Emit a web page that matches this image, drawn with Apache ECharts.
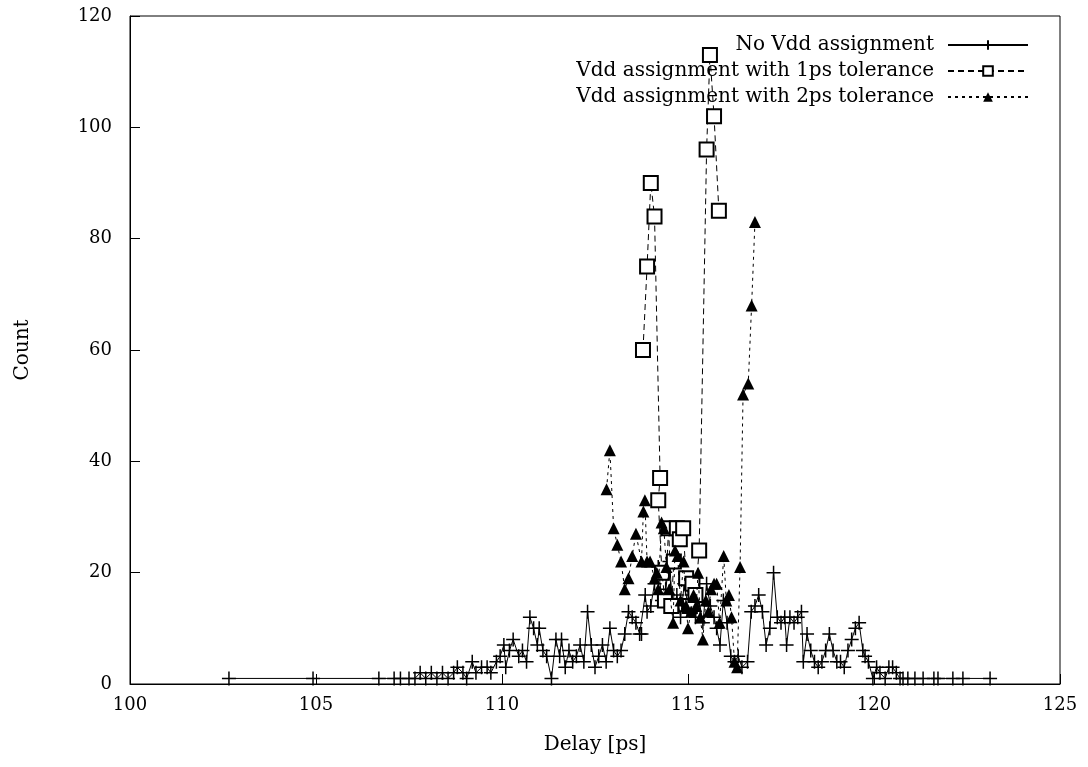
<!DOCTYPE html>
<html>
<head>
<meta charset="utf-8">
<script src="https://cdn.jsdelivr.net/npm/echarts@6/dist/echarts.min.js"></script>
<style>
  html, body { margin: 0; padding: 0; background: #fff; }
  #chart { width: 1088px; height: 767px; }
</style>
</head>
<body>
<div id="chart"></div>
<script>
// No Vdd assignment
var delayNoVdd = [102.66, 104.92, 106.69, 107.1, 107.27, 107.5, 107.66, 107.8, 107.95, 108.1, 108.25, 108.4, 108.55, 108.7, 108.8, 108.95, 109.05, 109.2, 109.3, 109.45, 109.6, 109.7, 109.85, 109.95, 110.05, 110.1, 110.2, 110.3, 110.45, 110.55, 110.66, 110.75, 110.85, 110.95, 111.0, 111.1, 111.2, 111.33, 111.45, 111.55, 111.6, 111.7, 111.8, 111.9, 112.0, 112.1, 112.2, 112.3, 112.4, 112.5, 112.6, 112.7, 112.8, 112.9, 113.0, 113.1, 113.2, 113.3, 113.4, 113.5, 113.6, 113.7, 113.75, 113.85, 113.9, 114.0, 114.1, 114.2, 114.3, 114.4, 114.5, 114.6, 114.7, 114.8, 114.9, 115.0, 115.1, 115.2, 115.3, 115.4, 115.5, 115.6, 115.7, 115.77, 115.86, 115.95, 116.05, 116.15, 116.25, 116.35, 116.45, 116.6, 116.7, 116.8, 116.9, 117.0, 117.1, 117.2, 117.3, 117.4, 117.5, 117.6, 117.65, 117.74, 117.85, 117.95, 118.05, 118.1, 118.2, 118.3, 118.4, 118.5, 118.6, 118.7, 118.8, 118.9, 119.0, 119.1, 119.2, 119.3, 119.4, 119.5, 119.6, 119.7, 119.76, 119.85, 119.97, 120.07, 120.16, 120.3, 120.4, 120.5, 120.6, 120.7, 120.78, 120.91, 121.1, 121.32, 121.61, 121.72, 122.12, 122.39, 123.12];
var countNoVdd = [1, 1, 1, 1, 1, 1, 1, 2, 1, 2, 1, 2, 1, 2, 3, 2, 1, 4, 2, 3, 3, 2, 4, 5, 7, 3, 6, 8, 5, 6, 4, 12, 10, 7, 10, 6, 5, 1, 8, 5, 8, 3, 6, 4, 5, 7, 4, 13, 7, 3, 5, 7, 4, 10, 6, 5, 6, 9, 13, 12, 11, 9, 9, 16, 13, 14, 18, 21, 15, 17, 22, 13, 16, 12, 18, 14, 16, 12, 15, 11, 18, 14, 12, 10, 7, 15, 11, 5, 4, 5, 3, 4, 13, 14, 16, 13, 7, 10, 20, 12, 11, 12, 7, 12, 11, 12, 13, 4, 9, 6, 4, 3, 4, 6, 9, 6, 4, 4, 3, 6, 8, 10, 11, 6, 5, 4, 1, 3, 2, 1, 3, 3, 2, 1, 1, 1, 1, 1, 1, 1, 1, 1, 1];

// Vdd assignment with 1ps tolerance
var delay1ps = [113.79, 113.9, 114.0, 114.1, 114.25, 114.2, 114.3, 114.38, 114.48, 114.55, 114.62, 114.7, 114.78, 114.87, 114.95, 115.05, 115.12, 115.2, 115.3, 115.5, 115.59, 115.7, 115.83];
var count1ps = [60, 75, 90, 84, 37, 33, 20, 15, 28, 14, 22, 28, 26, 28, 19, 14, 18, 16, 24, 96, 113, 102, 85];

// Vdd assignment with 2ps tolerance
var delay2ps = [112.81, 112.9, 113.0, 113.1, 113.2, 113.3, 113.4, 113.5, 113.6, 113.75, 113.8, 113.84, 113.9, 113.98, 114.1, 114.16, 114.2, 114.29, 114.35, 114.42, 114.5, 114.6, 114.65, 114.72, 114.8, 114.88, 114.95, 115.0, 115.08, 115.15, 115.22, 115.27, 115.33, 115.4, 115.48, 115.55, 115.62, 115.7, 115.77, 115.85, 115.96, 116.03, 116.1, 116.17, 116.25, 116.32, 116.4, 116.48, 116.62, 116.71, 116.8];
var count2ps = [35, 42, 28, 25, 22, 17, 19, 23, 27, 22, 31, 33, 22, 22, 19, 20, 17, 29, 28, 21, 17, 11, 24, 23, 15, 22, 14, 10, 13, 16, 14, 20, 12, 8, 15, 13, 17, 18, 18, 11, 23, 15, 16, 12, 4, 3, 21, 52, 54, 68, 83];

var seriesNames = ['No Vdd assignment', 'Vdd assignment with 1ps tolerance', 'Vdd assignment with 2ps tolerance'];

function pairs(xs, ys) {
    var out = [];
    for (var i = 0; i < xs.length; i++) {
        out.push([xs[i], ys[i]]);
    }
    return out;
}

var font = 'DejaVu Serif';
var plusPath = 'path://M0,5L10,5M5,0L5,10';

// one legend per row so the sample lines line up on the right
function legendFor(name, top) {
    return {
        data: [name],
        right: 54,
        top: top,
        align: 'right',
        itemWidth: 80,
        itemHeight: 12,
        selectedMode: false,
        textStyle: { fontFamily: font, fontSize: 20, color: '#000', padding: [0, 9, 0, 0] }
    };
}

var chart = echarts.init(document.getElementById('chart'));
chart.setOption({
    animation: false,
    backgroundColor: '#fff',
    textStyle: { fontFamily: font },
    grid: {
        left: 130,
        right: 28,
        top: 16,
        bottom: 83,
        show: true,
        borderColor: '#000',
        borderWidth: 1
    },
    legend: [
        legendFor(seriesNames[0], 30),
        legendFor(seriesNames[1], 56),
        legendFor(seriesNames[2], 82)
    ],
    xAxis: {
        type: 'value',
        min: 100,
        max: 125,
        interval: 5,
        name: 'Delay [ps]',
        nameLocation: 'middle',
        nameGap: 51,
        nameTextStyle: { fontFamily: font, fontSize: 20, color: '#000' },
        axisLine: { lineStyle: { color: '#000' } },
        axisTick: { inside: true, length: 10, lineStyle: { color: '#000' } },
        axisLabel: { fontFamily: font, fontSize: 18, color: '#000', margin: 12 },
        splitLine: { show: false }
    },
    yAxis: {
        type: 'value',
        min: 0,
        max: 120,
        interval: 20,
        name: 'Count',
        nameLocation: 'middle',
        nameRotate: 90,
        nameGap: 97,
        nameTextStyle: { fontFamily: font, fontSize: 20, color: '#000' },
        axisLine: { lineStyle: { color: '#000' } },
        axisTick: { inside: true, length: 10, lineStyle: { color: '#000' } },
        axisLabel: { fontFamily: font, fontSize: 18, color: '#000', margin: 18 },
        splitLine: { show: false }
    },
    series: [
        {
            name: seriesNames[0],
            type: 'line',
            data: pairs(delayNoVdd, countNoVdd),
            symbol: plusPath,
            symbolSize: 14,
            lineStyle: { color: '#000', width: 1, type: 'solid' },
            itemStyle: { color: '#000', borderColor: '#000', borderWidth: 1.5 },
            z: 2
        },
        {
            name: seriesNames[1],
            type: 'line',
            data: pairs(delay1ps, count1ps),
            symbol: 'emptyRect',
            symbolSize: 14,
            lineStyle: { color: '#000', width: 1, type: [6, 4] },
            itemStyle: { color: '#000', borderColor: '#000', borderWidth: 1.2 },
            z: 3
        },
        {
            name: seriesNames[2],
            type: 'line',
            data: pairs(delay2ps, count2ps),
            symbol: 'triangle',
            symbolSize: 12,
            lineStyle: { color: '#000', width: 1, type: [3, 4] },
            itemStyle: { color: '#000', borderColor: '#000', borderWidth: 0 },
            z: 4
        }
    ]
});
</script>
</body>
</html>
